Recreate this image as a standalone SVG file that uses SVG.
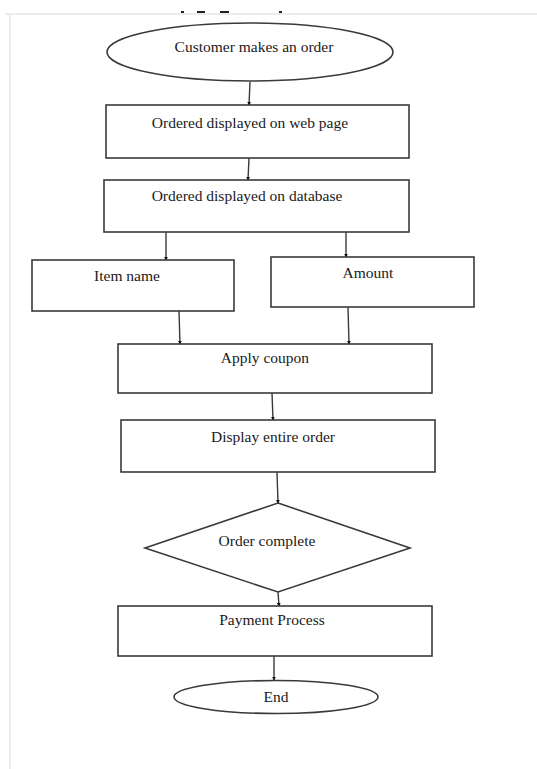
<svg xmlns="http://www.w3.org/2000/svg" width="537" height="769" viewBox="0 0 537 769">
<style>
.shape{fill:#fff;stroke:#3a3a3a;stroke-width:1.6}
.lbl{font-family:"Liberation Serif","Times New Roman",serif;font-size:15.5px;fill:#1a1a1a;text-anchor:middle}
.con{stroke:#3a3a3a;stroke-width:1.4;fill:none;marker-end:url(#ah)}
.frame{stroke:#ececec;stroke-width:2;fill:none}
</style>
<defs>
<marker id="ah" viewBox="0 0 6 6" refX="5" refY="3" markerWidth="4" markerHeight="4" orient="auto" markerUnits="userSpaceOnUse">
<path d="M0,0 L6,3 L0,6 Z" fill="#111"/>
</marker>
</defs>
<rect width="537" height="769" fill="#fff"/>
<g id="frame">
<line class="frame" x1="5" y1="14" x2="537" y2="14"/>
<line class="frame" x1="10" y1="14" x2="10" y2="769"/>
<g fill="#222">
<rect x="181" y="11" width="3" height="2"/>
<rect x="197" y="11" width="8" height="2"/>
<rect x="220" y="11" width="9" height="2"/>
<rect x="279" y="11" width="3" height="2"/>
</g>
</g>
<g id="connectors">
<line class="con" x1="250" y1="82" x2="249" y2="105"/>
<line class="con" x1="249" y1="158" x2="248" y2="180"/>
<line class="con" x1="166" y1="232" x2="166" y2="260"/>
<line class="con" x1="346" y1="232" x2="346" y2="257"/>
<line class="con" x1="179" y1="311" x2="180" y2="344"/>
<line class="con" x1="348" y1="307" x2="349" y2="344"/>
<line class="con" x1="272" y1="393" x2="273" y2="420"/>
<line class="con" x1="277" y1="472" x2="278" y2="503"/>
<line class="con" x1="278" y1="592" x2="279" y2="606"/>
<line class="con" x1="274" y1="656" x2="274" y2="680"/>
</g>
<g id="start">
<ellipse class="shape" cx="250" cy="52" rx="143" ry="29"/>
<text class="lbl" x="254" y="52">Customer makes an order</text>
</g>
<g id="web">
<rect class="shape" x="106" y="105" width="303" height="53"/>
<text class="lbl" x="250" y="128">Ordered displayed on web page</text>
</g>
<g id="db">
<rect class="shape" x="104" y="180" width="305" height="52"/>
<text class="lbl" x="247" y="201">Ordered displayed on database</text>
</g>
<g id="item">
<rect class="shape" x="32" y="260" width="202" height="51"/>
<text class="lbl" x="127" y="281">Item name</text>
</g>
<g id="amount">
<rect class="shape" x="271" y="257" width="203" height="50"/>
<text class="lbl" x="368" y="278">Amount</text>
</g>
<g id="coupon">
<rect class="shape" x="118" y="344" width="314" height="49"/>
<text class="lbl" x="265" y="363">Apply coupon</text>
</g>
<g id="display">
<rect class="shape" x="121" y="420" width="314" height="52"/>
<text class="lbl" x="273" y="442">Display entire order</text>
</g>
<g id="complete">
<polygon class="shape" points="278,503 410,548 278,592 145,548"/>
<text class="lbl" x="267" y="546">Order complete</text>
</g>
<g id="payment">
<rect class="shape" x="118" y="606" width="314" height="50"/>
<text class="lbl" x="272" y="625">Payment Process</text>
</g>
<g id="end">
<ellipse class="shape" cx="276" cy="697" rx="102" ry="16.5"/>
<text class="lbl" x="276" y="702">End</text>
</g>
</svg>
